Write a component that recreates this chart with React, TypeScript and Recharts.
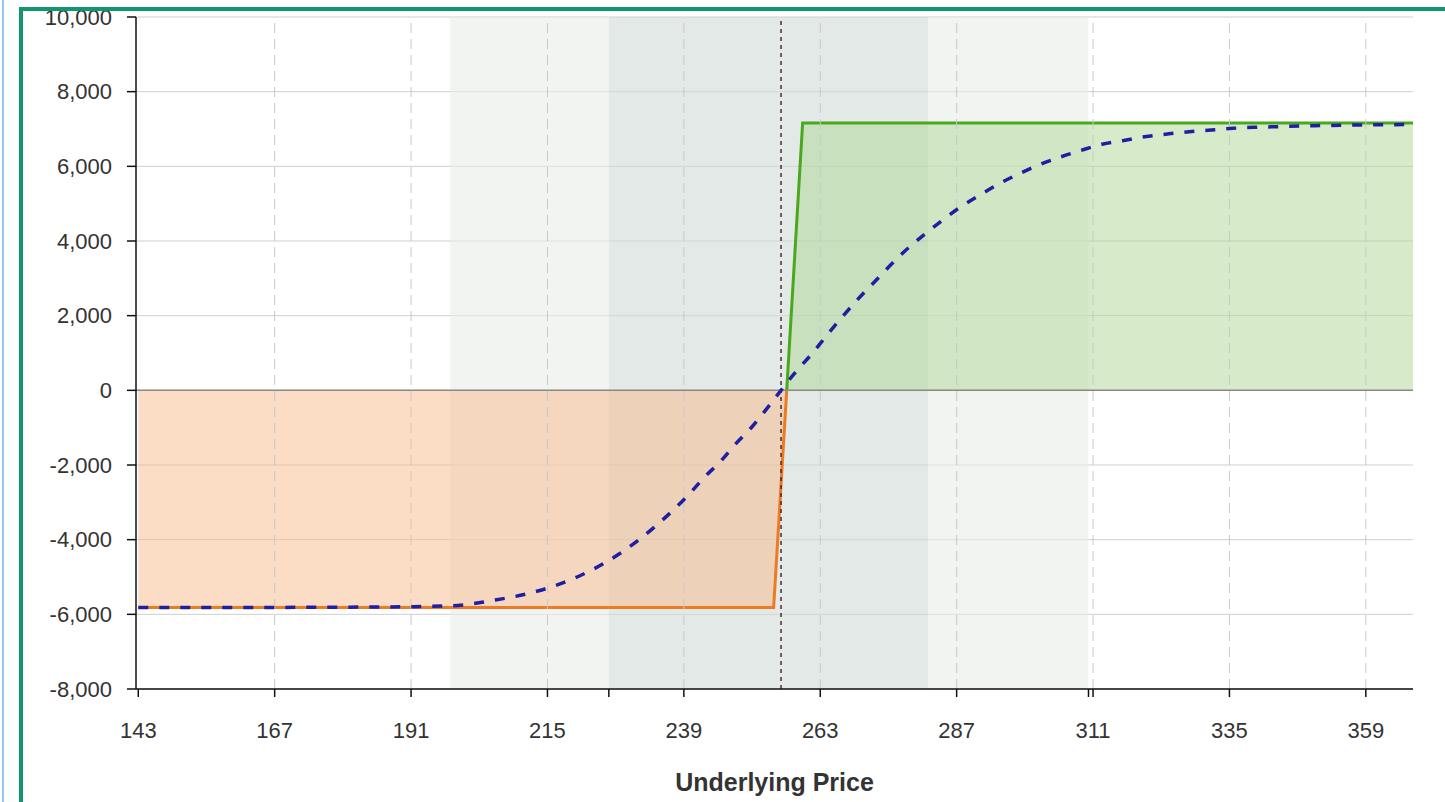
import React from "react";
import {
  ComposedChart,
  Area,
  Line,
  XAxis,
  YAxis,
  CartesianGrid,
  ReferenceArea,
  ReferenceLine,
  Label,
} from "recharts";

// P&L at expiration (kinks of the payoff)
const expiryPrices = [143, 254.8, 257.1, 259.9, 367.3];
const expiryPnl = [-5820, -5820, 0, 7160, 7160];

// P&L today (dashed curve)
const todayPrices = [
  143, 167, 180, 190.3, 198.2, 205.8, 213.3, 220.7, 227.6, 234.1, 239.9, 242.7, 245.4, 248.2,
  251.0, 253.5, 256.1, 258.7, 261.5, 264.2, 266.8, 269.5, 272.4, 275.2, 277.9, 281.2, 284.4,
  287.6, 290.9, 294.4, 297.9, 301.4, 305.1, 308.7, 312.6, 316.2, 320.1, 324.1, 327.9, 331.8,
  335.6, 339.2, 343.1, 350, 358, 367.3,
];
const todayPnl = [
  -5820, -5815, -5808, -5797, -5770, -5617, -5376, -4967, -4385, -3627, -2786, -2314, -1912,
  -1420, -975, -509, 0, 498, 972, 1481, 1956, 2419, 2882, 3330, 3732, 4160, 4543, 4902, 5213,
  5527, 5794, 6035, 6242, 6418, 6590, 6686, 6793, 6866, 6927, 6973, 7018, 7045, 7061, 7088,
  7108, 7120,
];

const xTickLabels = [143, 167, 191, 215, 239, 263, 287, 311, 335, 359];
const yTicks = [-8000, -6000, -4000, -2000, 0, 2000, 4000, 6000, 8000, 10000];
const currentPrice = 256.1;
// standard deviation bands: [outerLow, innerLow, innerHigh, outerHigh]
const bandEdges = [197.9, 225.8, 282.0, 310.2];

const lossData = expiryPrices
  .map((p, i) => ({ price: p, pnl: expiryPnl[i] }))
  .filter((d) => d.pnl <= 0);
const profitData = expiryPrices
  .map((p, i) => ({ price: p, pnl: expiryPnl[i] }))
  .filter((d) => d.pnl >= 0);
const todayData = todayPrices.map((p, i) => ({ price: p, pnl: todayPnl[i] }));

const bottomTicks = [...xTickLabels, bandEdges[1], bandEdges[3]].sort((a, b) => a - b);
const topTicks = [bandEdges[1], currentPrice, bandEdges[2]];

const font = "'Liberation Sans', Arial, sans-serif";

export default function App() {
  return (
    <div style={{ position: "absolute", left: 0, top: 0, width: 1445, height: 802, background: "#fff", overflow: "hidden" }}>
      <ComposedChart
        width={1445}
        height={802}
        margin={{ top: 17, right: 32, bottom: 0, left: 56 }}
        style={{ position: "absolute", left: 0, top: 0 }}
      >
        <ReferenceArea x1={bandEdges[0]} x2={bandEdges[1]} fill="#e9ede9" fillOpacity={0.6} stroke="none" ifOverflow="hidden" />
        <ReferenceArea x1={bandEdges[1]} x2={bandEdges[2]} fill="#d0dad5" fillOpacity={0.6} stroke="none" ifOverflow="hidden" />
        <ReferenceArea x1={bandEdges[2]} x2={bandEdges[3]} fill="#e9ede9" fillOpacity={0.6} stroke="none" ifOverflow="hidden" />
        <CartesianGrid vertical={false} stroke="#cfcfcf" />
        {xTickLabels.slice(1).map((t) => (
          <ReferenceLine key={t} x={t} stroke="#c8c8c8" strokeDasharray="10 6" />
        ))}
        <XAxis
          type="number"
          dataKey="price"
          domain={[142.6, 367.3]}
          allowDataOverflow
          ticks={bottomTicks}
          interval={0}
          tickFormatter={(v: number) => (xTickLabels.includes(v) ? String(v) : "")}
          tick={{ fill: "#333", fontSize: 22, fontFamily: font }}
          tickSize={8}
          tickMargin={25}
          tickLine={{ stroke: "#111", strokeWidth: 1.5 }}
          axisLine={{ stroke: "#111", strokeWidth: 1.5 }}
          height={113}
        >
          <Label
            value="Underlying Price"
            position="insideBottom"
            offset={11}
            style={{ fill: "#333", fontSize: 25, fontWeight: "bold", fontFamily: font }}
          />
        </XAxis>
        <XAxis
          xAxisId="top"
          orientation="top"
          type="number"
          dataKey="price"
          domain={[142.6, 367.3]}
          allowDataOverflow
          ticks={topTicks}
          interval={0}
          tick={false}
          tickSize={6}
          tickLine={{ stroke: "#111", strokeWidth: 1.5 }}
          axisLine={false}
          height={0}
        />
        <YAxis
          type="number"
          domain={[-8000, 10000]}
          ticks={yTicks}
          interval={0}
          tickFormatter={(v: number) => v.toLocaleString("en-US")}
          tick={{ fill: "#333", fontSize: 22, fontFamily: font }}
          tickSize={9}
          tickMargin={15}
          tickLine={{ stroke: "#111", strokeWidth: 1.5 }}
          axisLine={{ stroke: "#111", strokeWidth: 1.5 }}
          width={80}
        />
        <ReferenceLine y={0} stroke="#8a8a82" strokeWidth={1.5} />
        <Area
          data={lossData}
          dataKey="pnl"
          type="linear"
          baseValue={0}
          stroke="#ee7a22"
          strokeWidth={3}
          fill="#f7b98c"
          fillOpacity={0.5}
          isAnimationActive={false}
          dot={false}
          activeDot={false}
        />
        <Area
          data={profitData}
          dataKey="pnl"
          type="linear"
          baseValue={0}
          stroke="#4aa81c"
          strokeWidth={3}
          fill="#b0d898"
          fillOpacity={0.5}
          isAnimationActive={false}
          dot={false}
          activeDot={false}
        />
        <ReferenceLine x={currentPrice} stroke="#4a2a3a" strokeDasharray="4 4" strokeWidth={1.5} />
        <Line
          data={todayData}
          dataKey="pnl"
          type="monotone"
          stroke="#1f1fa0"
          strokeWidth={3.5}
          strokeDasharray="10 11"
          dot={false}
          activeDot={false}
          isAnimationActive={false}
        />
      </ComposedChart>
      <div style={{ position: "absolute", left: 2, top: 0, width: 2, height: 802, background: "#9cc3ee" }} />
      <div
        style={{
          position: "absolute",
          left: 19,
          top: 7,
          width: 1500,
          height: 900,
          borderTop: "4px solid #139670",
          borderLeft: "4px solid #139670",
          boxSizing: "border-box",
          pointerEvents: "none",
        }}
      />
    </div>
  );
}
